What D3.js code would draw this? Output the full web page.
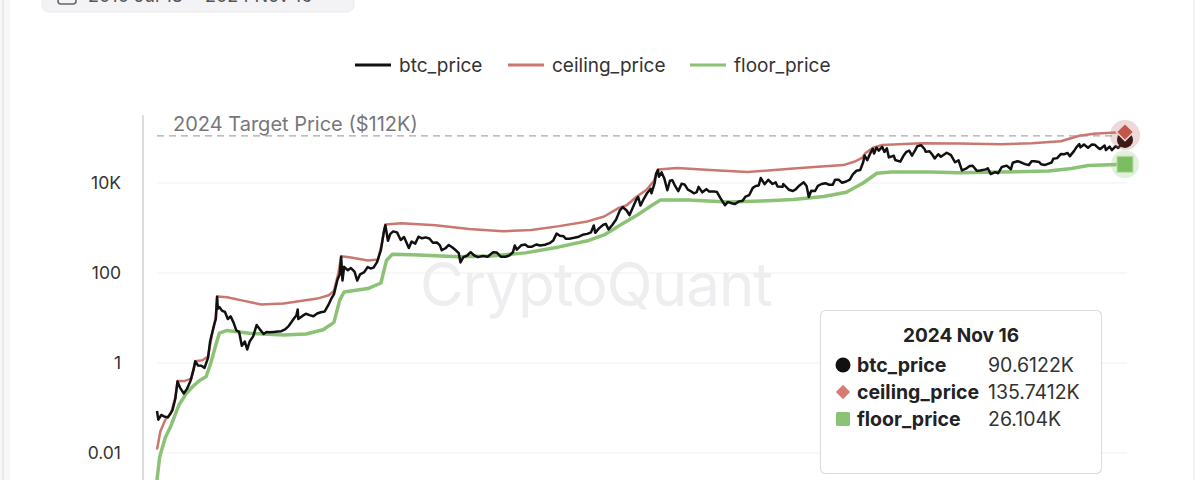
<!DOCTYPE html>
<html>
<head>
<meta charset="utf-8">
<script src="https://cdn.jsdelivr.net/npm/d3@7"></script>
<style>
  body { margin: 0; background: #fff; font-family: "Inter", "Noto Sans", sans-serif; }
  svg { display: block; }
</style>
</head>
<body>
<svg id="chart" width="1200" height="480"></svg>
<script>
// btc_price (date, USD)
const btcPrice = [
  ["2010-07-18",0.086],["2010-07-25",0.055],["2010-08-10",0.07],["2010-08-25",0.065],["2010-09-15",0.062],
  ["2010-10-10",0.09],["2010-10-25",0.16],["2010-11-06",0.39],["2010-11-20",0.28],["2010-12-10",0.21],
  ["2010-12-28",0.27],["2011-01-15",0.40],["2011-02-01",0.72],["2011-02-10",1.09],["2011-02-25",0.88],
  ["2011-03-15",0.87],["2011-04-01",0.78],["2011-04-20",1.3],["2011-05-01",3.0],["2011-05-20",6.3],
  ["2011-06-01",9.5],["2011-06-08",29.6],["2011-06-12",16],["2011-06-20",17.5],["2011-07-05",14.5],
  ["2011-07-20",13.7],["2011-08-05",9.5],["2011-08-20",10.9],["2011-09-05",7.9],["2011-09-20",5.3],
  ["2011-10-05",4.9],["2011-10-20",2.4],["2011-11-05",3.0],["2011-11-18",2.0],["2011-12-01",3.0],
  ["2011-12-20",3.9],["2012-01-08",7.0],["2012-01-25",5.6],["2012-02-15",4.4],["2012-03-01",4.9],
  ["2012-03-20",4.8],["2012-04-10",4.9],["2012-05-01",5.0],["2012-05-20",5.1],["2012-06-10",5.6],
  ["2012-06-30",6.7],["2012-07-20",8.8],["2012-08-10",11.5],["2012-08-17",15.4],["2012-08-20",9.5],
  ["2012-09-10",11.0],["2012-09-30",12.4],["2012-10-20",11.6],["2012-11-10",10.9],["2012-11-30",12.6],
  ["2012-12-20",13.4],["2013-01-10",14.0],["2013-01-30",19.5],["2013-02-15",27],["2013-03-01",34],
  ["2013-03-20",71],["2013-04-01",93],["2013-04-09",230],["2013-04-16",68],["2013-04-25",137],
  ["2013-05-15",115],["2013-06-01",129],["2013-06-20",107],["2013-07-05",68],["2013-07-20",93],
  ["2013-08-10",103],["2013-08-30",135],["2013-09-15",126],["2013-10-01",132],["2013-10-20",175],
  ["2013-11-10",324],["2013-11-25",790],["2013-12-04",1150],["2013-12-18",520],["2013-12-30",730],
  ["2014-01-15",840],["2014-02-05",800],["2014-02-25",540],["2014-03-15",630],["2014-04-10",360],
  ["2014-04-25",500],["2014-05-15",450],["2014-06-01",640],["2014-06-20",590],["2014-07-10",620],
  ["2014-07-30",585],["2014-08-18",470],["2014-09-10",475],["2014-09-25",410],["2014-10-05",320],
  ["2014-10-25",355],["2014-11-12",420],["2014-11-30",375],["2014-12-20",320],["2015-01-05",275],
  ["2015-01-14",172],["2015-01-30",225],["2015-02-20",245],["2015-03-10",290],["2015-03-30",245],
  ["2015-04-20",225],["2015-05-15",240],["2015-06-10",230],["2015-07-10",290],["2015-07-30",285],
  ["2015-08-20",230],["2015-09-15",230],["2015-10-05",245],["2015-10-25",290],["2015-11-04",410],
  ["2015-11-15",330],["2015-12-10",415],["2015-12-30",430],["2016-01-15",385],["2016-02-05",385],
  ["2016-02-28",430],["2016-03-20",410],["2016-04-15",425],["2016-05-10",460],["2016-05-30",530],
  ["2016-06-17",750],["2016-07-05",670],["2016-07-25",655],["2016-08-05",580],["2016-08-25",580],
  ["2016-09-20",605],["2016-10-15",640],["2016-11-05",705],["2016-11-30",740],["2016-12-20",800],
  ["2017-01-04",1135],["2017-01-12",780],["2017-02-01",980],["2017-02-25",1180],["2017-03-10",1240],
  ["2017-03-25",930],["2017-04-15",1180],["2017-05-05",1550],["2017-05-25",2450],["2017-06-10",2900],
  ["2017-06-30",2480],["2017-07-16",1930],["2017-08-01",2720],["2017-08-20",4080],["2017-09-01",4900],
  ["2017-09-14",3150],["2017-10-01",4400],["2017-10-20",6000],["2017-11-08",7450],["2017-11-12",5900],
  ["2017-11-29",9900],["2017-12-07",16000],["2017-12-17",19500],["2017-12-22",13800],["2018-01-06",17200],
  ["2018-01-20",12800],["2018-02-06",6900],["2018-02-20",11200],["2018-03-05",11500],["2018-03-20",8600],
  ["2018-04-06",6600],["2018-04-24",9600],["2018-05-10",9300],["2018-05-28",7100],["2018-06-15",6500],
  ["2018-06-29",5900],["2018-07-15",6300],["2018-07-25",8200],["2018-08-14",6200],["2018-09-05",7300],
  ["2018-09-20",6500],["2018-10-15",6500],["2018-11-01",6350],["2018-11-20",4600],["2018-12-15",3200],
  ["2018-12-30",3800],["2019-01-20",3550],["2019-02-07",3400],["2019-02-25",3850],["2019-03-20",4050],
  ["2019-04-05",5000],["2019-04-25",5400],["2019-05-14",7800],["2019-05-30",8600],["2019-06-15",8800],
  ["2019-06-26",12900],["2019-07-17",9400],["2019-08-06",11800],["2019-08-29",9500],["2019-09-15",10300],
  ["2019-09-25",8400],["2019-10-22",8200],["2019-10-26",9500],["2019-11-25",7100],["2019-12-17",6650],
  ["2020-01-01",7200],["2020-01-20",8700],["2020-02-13",10350],["2020-02-29",8550],["2020-03-12",4900],
  ["2020-03-25",6700],["2020-04-15",6650],["2020-04-30",8650],["2020-05-20",9500],["2020-06-10",9900],
  ["2020-06-30",9150],["2020-07-20",9200],["2020-08-01",11800],["2020-08-20",11850],["2020-09-08",10100],
  ["2020-09-30",10800],["2020-10-20",11900],["2020-11-05",15600],["2020-11-25",18700],["2020-12-15",19400],
  ["2020-12-31",29000],["2021-01-08",40800],["2021-01-22",32000],["2021-02-08",46400],["2021-02-21",57500],
  ["2021-02-28",45100],["2021-03-13",61200],["2021-03-25",52400],["2021-04-13",63500],["2021-04-25",49000],
  ["2021-05-08",58900],["2021-05-19",37000],["2021-06-15",40200],["2021-06-22",32500],["2021-07-20",29800],
  ["2021-08-05",39700],["2021-08-22",49300],["2021-09-06",52700],["2021-09-21",40600],["2021-10-10",55000],
  ["2021-10-20",66000],["2021-11-10",68800],["2021-11-28",57000],["2021-12-04",49200],["2021-12-25",50800],
  ["2022-01-10",41800],["2022-01-22",35100],["2022-02-10",43600],["2022-02-24",38300],["2022-03-28",47100],
  ["2022-04-20",41500],["2022-05-12",28900],["2022-05-31",31800],["2022-06-18",19000],["2022-07-10",20800],
  ["2022-07-30",23800],["2022-08-15",24200],["2022-09-06",18800],["2022-09-25",18900],["2022-10-25",20100],
  ["2022-11-05",21300],["2022-11-21",15800],["2022-12-15",17400],["2022-12-31",16500],["2023-01-20",22700],
  ["2023-02-15",24300],["2023-03-10",20200],["2023-03-20",28200],["2023-04-14",30500],["2023-04-30",29200],
  ["2023-05-25",26300],["2023-06-15",25100],["2023-06-30",30500],["2023-07-15",30300],["2023-08-10",29400],
  ["2023-08-20",26100],["2023-09-11",25200],["2023-09-30",27000],["2023-10-16",28500],["2023-10-25",34500],
  ["2023-11-15",35700],["2023-12-05",44000],["2023-12-25",43600],["2024-01-10",46600],["2024-01-23",39500],
  ["2024-02-15",51800],["2024-02-28",62500],["2024-03-14",73100],["2024-03-20",61900],["2024-04-08",71600],
  ["2024-04-30",60600],["2024-05-20",71400],["2024-06-05",71100],["2024-06-24",60300],["2024-07-05",56700],
  ["2024-07-29",68200],["2024-08-05",54000],["2024-08-25",64200],["2024-09-06",53900],["2024-09-27",65800],
  ["2024-10-10",60300],["2024-10-29",72700],["2024-11-05",68500],["2024-11-12",88700],["2024-11-16",90612]
];

// ceiling_price
const ceilingPrice = [
  ["2010-07-18",0.012],["2010-08-05",0.03],["2010-09-01",0.055],["2010-10-01",0.075],["2010-10-25",0.17],
  ["2010-11-06",0.40],["2010-12-15",0.40],["2011-01-20",0.45],["2011-02-10",1.1],["2011-03-20",1.15],
  ["2011-04-20",1.4],["2011-05-10",4.0],["2011-06-01",10.5],["2011-06-08",30],["2011-08-01",29],
  ["2011-11-01",24],["2012-02-01",20],["2012-06-01",21],["2012-09-01",24],["2012-12-01",27],
  ["2013-02-01",32],["2013-03-01",40],["2013-03-25",100],["2013-04-09",235],["2013-06-01",220],
  ["2013-09-01",190],["2013-10-25",200],["2013-11-15",450],["2013-11-28",900],["2013-12-04",1200],
  ["2014-03-01",1280],["2014-09-01",1150],["2015-03-01",950],["2015-09-01",850],["2016-02-01",900],
  ["2016-07-01",1100],["2016-12-01",1400],["2017-03-01",1800],["2017-05-20",2800],["2017-07-01",3200],
  ["2017-08-25",5000],["2017-10-15",7000],["2017-11-25",11000],["2017-12-17",20000],["2018-04-01",21500],
  ["2018-09-25",19500],["2019-04-15",17500],["2019-12-20",21000],["2020-05-01",23000],["2020-09-15",25000],
  ["2020-11-15",30000],["2020-12-25",36000],["2021-01-10",45000],["2021-02-20",60000],["2021-04-13",70000],
  ["2021-11-10",76000],["2022-06-01",75000],["2023-01-15",73000],["2023-07-01",76000],["2023-12-05",85000],
  ["2024-03-14",112000],["2024-06-01",125000],["2024-09-01",130000],["2024-11-16",135741.2]
];

// floor_price
const floorPrice = [
  ["2010-07-18",0.0025],["2010-08-01",0.008],["2010-09-01",0.022],["2010-10-01",0.04],["2010-11-15",0.12],
  ["2010-12-20",0.20],["2011-01-20",0.28],["2011-03-01",0.40],["2011-04-10",0.5],["2011-05-05",1.0],
  ["2011-06-01",2.5],["2011-06-20",4.6],["2011-08-01",5.3],["2011-12-01",4.6],["2012-06-01",4.2],
  ["2012-10-01",4.4],["2013-01-01",5.5],["2013-03-01",8],["2013-04-01",25],["2013-04-25",38],
  ["2013-09-01",45],["2013-11-10",60],["2013-12-10",190],["2014-01-10",260],["2014-06-01",250],
  ["2015-01-01",230],["2015-07-01",240],["2016-01-01",280],["2016-07-01",380],["2016-12-01",520],
  ["2017-03-01",700],["2017-06-01",1200],["2017-09-01",2000],["2017-11-15",3200],["2017-12-31",4200],
  ["2018-06-01",4200],["2019-01-01",3800],["2019-07-01",4000],["2019-12-20",4300],["2020-06-01",5000],
  ["2020-10-01",6200],["2020-12-31",10000],["2021-03-15",16500],["2021-06-01",17500],["2022-01-01",17500],
  ["2022-06-01",17000],["2023-01-01",17500],["2023-10-01",18500],["2024-02-01",21000],["2024-05-01",24500],
  ["2024-11-16",26104]
];

const yTicks = [0.01, 1, 100, 10000];
const yTickLabels = ["0.01", "1", "100", "10K"];
const targetPrice = 112000;
const targetLabel = "2024 Target Price ($112K)";
const seriesNames = ["btc_price", "ceiling_price", "floor_price"];
const tooltipDate = "2024 Nov 16";
const tooltipValues = ["90.6122K", "135.7412K", "26.104K"];

const colors = { btc: "#111111", ceiling: "#c9776f", floor: "#8cc275" };
const parse = d3.timeParse("%Y-%m-%d");
const toPts = arr => arr.map(d => ({ date: parse(d[0]), value: d[1] }));
const btc = toPts(btcPrice), ceil = toPts(ceilingPrice), floor = toPts(floorPrice);

const svg = d3.select("#chart");

// page frame
svg.append("rect").attr("x", 0).attr("y", 0).attr("width", 10).attr("height", 480).attr("fill", "#f7f7f8");
svg.append("line").attr("x1", 3).attr("x2", 3).attr("y1", 0).attr("y2", 480).attr("stroke", "#e6e6e8").attr("stroke-width", 1.5);
svg.append("line").attr("x1", 1194).attr("x2", 1194).attr("y1", 0).attr("y2", 480).attr("stroke", "#ececee").attr("stroke-width", 1.5);

// date picker (cut off at top, as in the screenshot)
svg.append("rect").attr("x", 42).attr("y", -30).attr("width", 312).attr("height", 42).attr("rx", 7)
  .attr("fill", "#f3f3f5").attr("stroke", "#ebebed");
svg.append("rect").attr("x", 58).attr("y", -12).attr("width", 18).attr("height", 16).attr("rx", 3)
  .attr("fill", "none").attr("stroke", "#666").attr("stroke-width", 1.6);
svg.append("text").attr("x", 88).attr("y", 2).attr("font-size", 18).attr("fill", "#555")
  .text("2010 Jul 18  ~  2024 Nov 16");

const x = d3.scaleTime().domain([parse("2010-07-18"), parse("2024-11-16")]).range([157, 1125]);
const y = d3.scaleLog().domain([0.01, 10000]).range([453, 183]);

// left axis rule
svg.append("line").attr("x1", 143).attr("x2", 143).attr("y1", 115).attr("y2", 480)
  .attr("stroke", "#dcdce0").attr("stroke-width", 2);

// grid + labels
const grid = svg.append("g");
grid.selectAll("line").data(yTicks).enter().append("line")
  .attr("x1", 157).attr("x2", 1127)
  .attr("y1", d => y(d)).attr("y2", d => y(d))
  .attr("stroke", "#efeff1").attr("stroke-width", 1);
grid.selectAll("text").data(yTicks).enter().append("text")
  .attr("x", 121).attr("y", d => y(d)).attr("dy", "0.36em")
  .attr("text-anchor", "end").attr("font-size", 17.5).attr("fill", "#333")
  .text((d, i) => yTickLabels[i]);

// watermark
svg.append("text").attr("x", 596).attr("y", 306).attr("text-anchor", "middle")
  .attr("font-size", 60).attr("fill", "#eeeef0").attr("letter-spacing", -1).text("CryptoQuant");

// target price
svg.append("line").attr("x1", 157).attr("x2", 1127).attr("y1", y(targetPrice)).attr("y2", y(targetPrice))
  .attr("stroke", "#a9a9ad").attr("stroke-width", 1.3).attr("stroke-dasharray", "7,5");
svg.append("rect").attr("x", 166).attr("y", y(targetPrice) - 22).attr("width", 262).attr("height", 19).attr("fill", "#fff");
svg.append("text").attr("x", 173).attr("y", y(targetPrice) - 5).attr("font-size", 20).attr("fill", "#77777b")
  .text(targetLabel);

// lines
const line = d3.line().x(d => x(d.date)).y(d => y(d.value));
const plot = svg.append("g");
plot.append("path").datum(floor).attr("d", line).attr("fill", "none")
  .attr("stroke", colors.floor).attr("stroke-width", 3.5).attr("stroke-linejoin", "round");
plot.append("path").datum(ceil).attr("d", line).attr("fill", "none")
  .attr("stroke", colors.ceiling).attr("stroke-width", 2.5).attr("stroke-linejoin", "round");
plot.append("path").datum(btc).attr("d", line).attr("fill", "none")
  .attr("stroke", colors.btc).attr("stroke-width", 2.5).attr("stroke-linejoin", "round");

// end markers
const lastB = btc[btc.length - 1], lastC = ceil[ceil.length - 1], lastF = floor[floor.length - 1];
svg.append("circle").attr("cx", x(lastC.date)).attr("cy", y(lastC.value) + 3).attr("r", 15).attr("fill", "rgba(190,120,120,0.28)");
svg.append("circle").attr("cx", x(lastF.date)).attr("cy", y(lastF.value)).attr("r", 14).attr("fill", "rgba(140,194,117,0.25)");
svg.append("circle").attr("cx", x(lastB.date)).attr("cy", y(lastB.value)).attr("r", 8).attr("fill", "#3b1a18");
svg.append("path").attr("d", d3.symbol(d3.symbolDiamond2, 190)())
  .attr("transform", `translate(${x(lastC.date)},${y(lastC.value)})`)
  .attr("fill", "#c0574a").attr("stroke", "#f1d5d2").attr("stroke-width", 1.5);
svg.append("rect").attr("x", x(lastF.date) - 8).attr("y", y(lastF.value) - 8).attr("width", 16).attr("height", 16)
  .attr("fill", "#7dbd62").attr("stroke", "#b9dcaa").attr("stroke-width", 1);

// legend
const legendX = [355, 508, 690];
const legendColors = [colors.btc, colors.ceiling, colors.floor];
const legend = svg.append("g");
seriesNames.forEach((name, i) => {
  legend.append("line").attr("x1", legendX[i]).attr("x2", legendX[i] + 36).attr("y1", 65).attr("y2", 65)
    .attr("stroke", legendColors[i]).attr("stroke-width", 3);
  legend.append("text").attr("x", legendX[i] + 44).attr("y", 65).attr("dy", "0.35em")
    .attr("font-size", 19).attr("fill", "#333").text(name);
});

// tooltip
const tip = svg.append("g").attr("transform", "translate(820,310)");
tip.append("rect").attr("x", 0.5).attr("y", 0.5).attr("width", 281).attr("height", 163).attr("rx", 5)
  .attr("fill", "#fff").attr("stroke", "#dedee2").attr("stroke-width", 1.2);
tip.append("text").attr("x", 141).attr("y", 32).attr("text-anchor", "middle")
  .attr("font-size", 19).attr("font-weight", "bold").attr("fill", "#222").text(tooltipDate);
const rowY = [55, 82, 109];
tip.append("circle").attr("cx", 23).attr("cy", rowY[0]).attr("r", 7.5).attr("fill", "#111");
tip.append("path").attr("d", d3.symbol(d3.symbolDiamond2, 130)()).attr("transform", `translate(23,${rowY[1]})`).attr("fill", "#d47d74");
tip.append("rect").attr("x", 16).attr("y", rowY[2] - 7).attr("width", 14).attr("height", 14).attr("rx", 1.5).attr("fill", "#8cc275");
seriesNames.forEach((name, i) => {
  tip.append("text").attr("x", 37).attr("y", rowY[i]).attr("dy", "0.36em")
    .attr("font-size", 19.5).attr("font-weight", "bold").attr("fill", "#222").text(name);
  tip.append("text").attr("x", 168).attr("y", rowY[i]).attr("dy", "0.36em")
    .attr("font-size", 19.5).attr("fill", "#333").text(tooltipValues[i]);
});
</script>
</body>
</html>
